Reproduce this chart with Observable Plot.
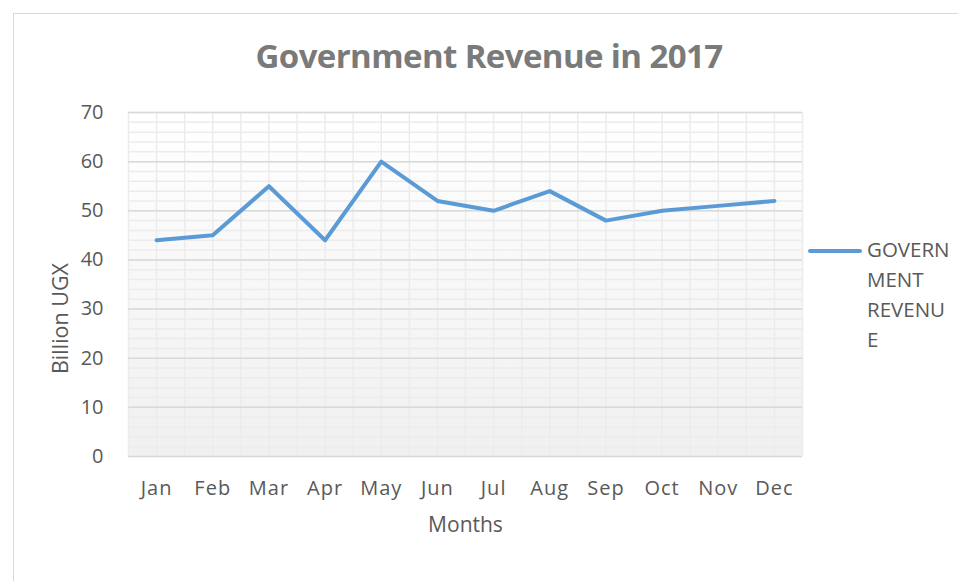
<!DOCTYPE html>
<html><head><meta charset="utf-8">
<script src="https://cdn.jsdelivr.net/npm/d3@7"></script>
<script src="https://cdn.jsdelivr.net/npm/@observablehq/plot@0.6"></script>
<style>
body{margin:0;background:#fff;font-family:"Open Sans",sans-serif;}
#wrap{position:relative;width:958px;height:581px;overflow:hidden;}
#border{position:absolute;left:13px;top:13px;width:960px;height:600px;border:1px solid #d9d9d9;box-sizing:border-box;}
#title{position:absolute;left:0;width:978px;top:33px;text-align:center;font:bold 33px "Open Sans";color:#7a7a7a;letter-spacing:-0.6px;}
#legend{position:absolute;left:808px;top:234px;}
#legend .sw{position:absolute;left:0;top:15px;width:54px;height:4px;background:#5b9bd5;border-radius:2px;}
#legend .tx{position:absolute;left:59px;top:0;font:20.5px "Open Sans";color:#595959;line-height:30px;white-space:nowrap;}
#chart{position:absolute;left:0;top:0;}
</style></head>
<body><div id="wrap"><div id="border"></div><div id="chart"></div>
<div id="title">Government Revenue in 2017</div>
<div id="legend"><div class="sw"></div><div class="tx">GOVERN<br>MENT<br>REVENU<br>E</div></div>
</div>
<script>
const months = ["Jan","Feb","Mar","Apr","May","Jun","Jul","Aug","Sep","Oct","Nov","Dec"];
const revenue = [44,45,55,44,60,52,50,54,48,50,51,52];
const yMajor = [0,10,20,30,40,50,60,70];
const yMinor = d3.range(0, 70.1, 2);
const xGrid = d3.range(-0.5, 11.6, 0.5);
const data = months.map((m,i)=>({i, m, v: revenue[i]}));

const plot = Plot.plot({
  width: 958, height: 581,
  marginLeft: 128, marginRight: 156, marginTop: 112, marginBottom: 125,
  style: {background: "transparent", fontFamily: "Open Sans", fontSize: "20px", color: "#595959"},
  x: {domain: [-0.5, 11.5], ticks: d3.range(12), tickFormat: i => months[i], tickSize: 0, tickPadding: 24, label: "Months", labelAnchor: "center", labelOffset: 75, labelArrow: "none"},
  y: {domain: [0, 70], ticks: yMajor, tickSize: 0, tickPadding: 25, label: "Billion UGX", labelAnchor: "center", labelOffset: 76, labelArrow: "none"},
  marks: [
    Plot.frame({fill: "url(#bgGrad)", stroke: "none"}),
    Plot.ruleY(yMinor, {stroke: "#ececec", strokeWidth: 1.5}),
    Plot.ruleX(xGrid, {stroke: "#ececec", strokeWidth: 1.5}),
    Plot.ruleY(yMajor, {stroke: "#d9d9d9", strokeWidth: 1.5}),
    Plot.line(data, {x: "i", y: "v", stroke: "#5b9bd5", strokeWidth: 4, strokeLinecap: "round", strokeLinejoin: "round"})
  ]
});
const svg = d3.select(plot);
const defs = svg.insert("defs", ":first-child");
const g = defs.append("linearGradient").attr("id","bgGrad").attr("x1",0).attr("y1",0).attr("x2",0).attr("y2",1);
g.append("stop").attr("offset","0%").attr("stop-color","#ffffff");
g.append("stop").attr("offset","100%").attr("stop-color","#f0f0f0");
svg.selectAll("[aria-label='x-axis tick label'] text").style("letter-spacing","1px");
svg.selectAll("[aria-label='x-axis label'] text").style("font-size","21px");
svg.selectAll("[aria-label='y-axis label'] text").style("font-size","21.5px").attr("dx", -34);
document.getElementById("chart").appendChild(plot);
</script></body></html>
